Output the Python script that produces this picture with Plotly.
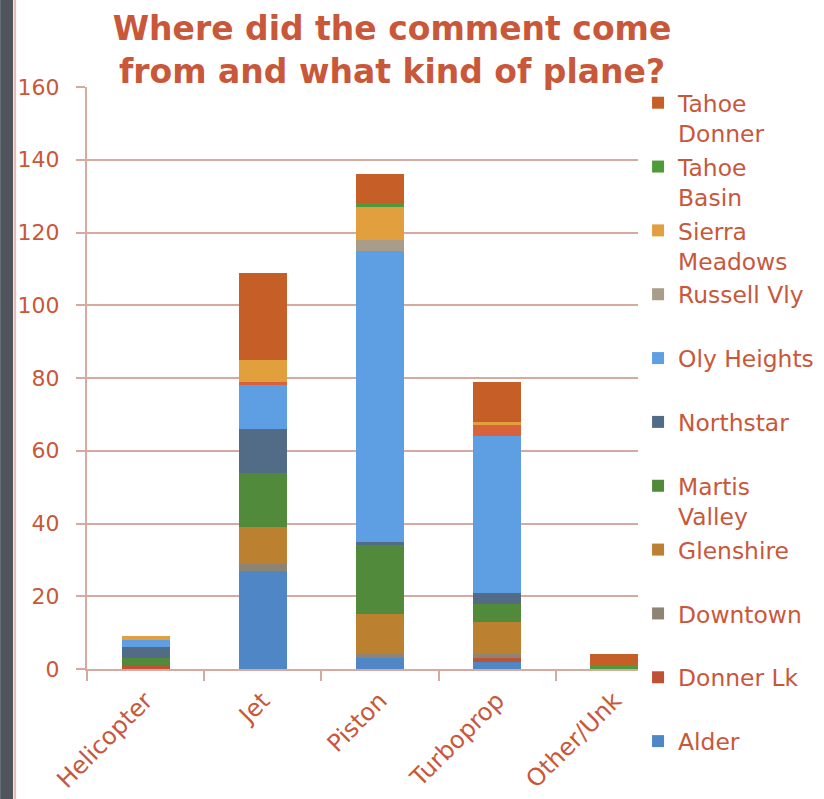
import plotly.graph_objects as go

categories = ["Helicopter", "Jet", "Piston", "Turboprop", "Other/Unk"]

# series, bottom of stack first
alder          = [0, 27, 3, 2, 0]
donner_lk      = [1, 0, 0, 1, 0]
downtown       = [0, 2, 1, 1, 0]
glenshire      = [0, 10, 11, 9, 0]
martis_valley  = [2, 15, 19, 5, 0]
northstar      = [3, 12, 1, 3, 0]
oly_heights    = [2, 12, 80, 43, 0]
unlisted_area  = [0, 1, 0, 3, 0]   # red band not shown in the legend
russell_vly    = [0, 0, 3, 0, 0]
sierra_meadows = [1, 6, 9, 1, 0]
tahoe_basin    = [0, 0, 1, 0, 1]
tahoe_donner   = [0, 24, 8, 11, 3]

series = [
    ("Alder<br> ", alder, "#4f86c6", True),
    ("Donner Lk<br> ", donner_lk, "#bf5232", True),
    ("Downtown<br> ", downtown, "#8e8474", True),
    ("Glenshire<br> ", glenshire, "#bb8030", True),
    ("Martis<br>Valley", martis_valley, "#508a3a", True),
    ("Northstar<br> ", northstar, "#526c88", True),
    ("Oly Heights<br> ", oly_heights, "#5d9fe2", True),
    ("Other area", unlisted_area, "#d9623a", False),
    ("Russell Vly<br> ", russell_vly, "#a99d89", True),
    ("Sierra<br>Meadows", sierra_meadows, "#e29f3e", True),
    ("Tahoe<br>Basin", tahoe_basin, "#4f9b3c", True),
    ("Tahoe<br>Donner", tahoe_donner, "#c65e28", True),
]

TXT = "#c9573a"
GRID = "#d6a9a1"
FONT = "DejaVu Sans"

fig = go.Figure()
for name, vals, color, show in series:
    fig.add_trace(go.Bar(
        x=categories, y=vals, name=name, marker_color=color,
        marker_line_width=0, showlegend=show, width=0.41,
    ))

fig.update_layout(
    barmode="stack",
    width=824, height=799,
    margin=dict(l=87, r=151, t=87, b=130, autoexpand=False),
    paper_bgcolor="white", plot_bgcolor="white",
    font=dict(family=FONT, color=TXT),
    title=dict(
        text="<b>Where did the comment come<br>from and what kind of plane?</b>",
        font=dict(size=33, color=TXT, family=FONT),
        x=392 / 824, xanchor="center", xref="container",
        y=1 - 40 / 799, yanchor="middle", yref="container",
    ),
    legend=dict(
        traceorder="reversed", valign="top",
        font=dict(size=23.4, color=TXT, family=FONT),
        x=(639 - 87) / 587, xanchor="left", y=1 + 6 / 582, yanchor="top",
        maxheight=740,
        bgcolor="white", borderwidth=0, tracegroupgap=0,
    ),
    xaxis=dict(
        type="category", tickson="boundaries", ticks="outside", ticklen=10,
        tickcolor=GRID, tickwidth=2, showline=True, linecolor=GRID, linewidth=2,
        tickangle=-45, tickfont=dict(size=24, color=TXT, family=FONT),
        showgrid=False, ticklabelstandoff=6, automargin=False,
    ),
    yaxis=dict(
        range=[0, 160], dtick=20, ticks="outside", ticklen=9, tickcolor=GRID,
        tickwidth=2, showline=True, linecolor=GRID, linewidth=2,
        showgrid=True, gridcolor=GRID, gridwidth=2, zeroline=False,
        tickfont=dict(size=22, color=TXT, family=FONT), ticklabelstandoff=12,
        automargin=False,
    ),
    shapes=[
        dict(type="rect", xref="paper", yref="paper",
             x0=-87 / 587, x1=-74 / 587, y0=-130 / 582, y1=1 + 87 / 582,
             fillcolor="#4f545d", line_width=0, layer="above"),
        dict(type="rect", xref="paper", yref="paper",
             x0=-73 / 587, x1=-71 / 587, y0=-130 / 582, y1=1 + 87 / 582,
             fillcolor="#e4b9b1", line_width=0, layer="above"),
    ],
)

fig.write_html("out.html", config={"displayModeBar": False},
               post_script="document.body.style.margin='0px';")
